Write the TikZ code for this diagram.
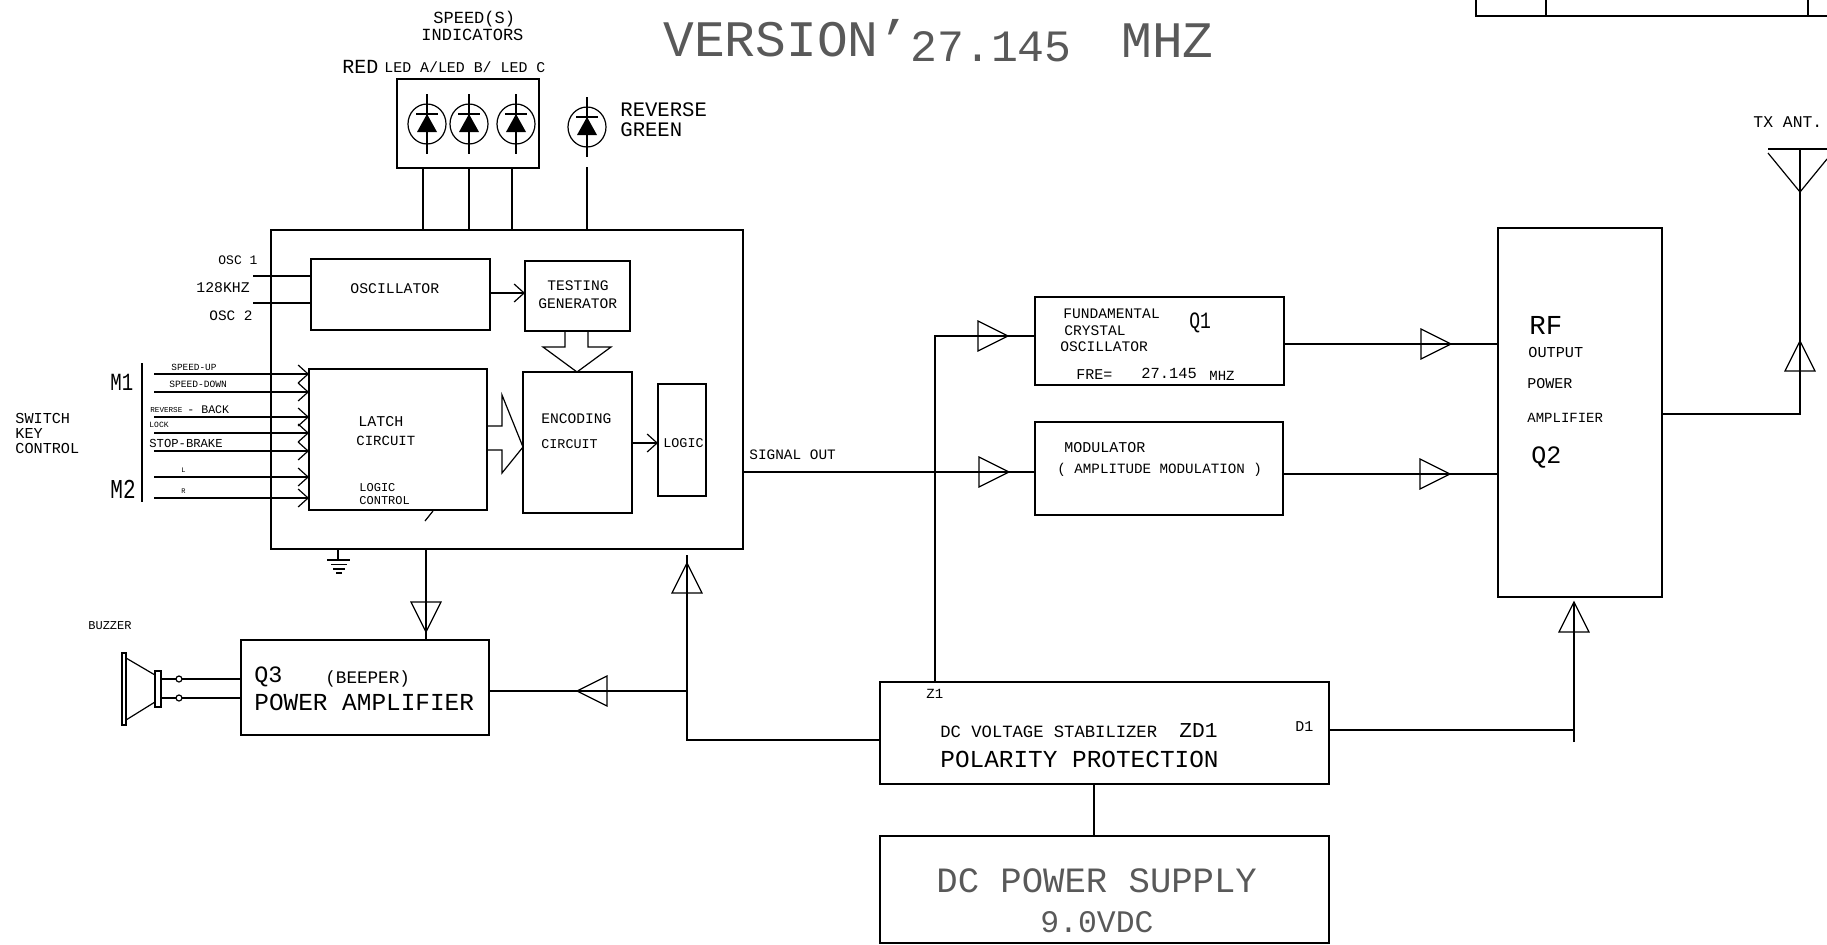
\documentclass[tikz,border=0pt]{standalone}
\usepackage{fontspec}
\setmainfont{Liberation Mono}
\usetikzlibrary{arrows.meta, fit}

\tikzset{
  lbl/.style={anchor=west, inner sep=0pt, font=\fontsize{#1}{#1}\selectfont},
  tall/.style={yscale=1.3, transform shape},
  thintxt/.style={text=black!65},
  blockbox/.style={draw, line width=.6pt, inner sep=0pt, outer sep=0pt},
  wire/.style={line width=.6pt},
  tipline/.style={wire, -{Straight Barb[length=5pt,width=9pt]}},
  openhead/.pic={\draw[wire] (-30,-15) -- (0,0) -- (-30,15) -- cycle;},
  ledsym/.pic={
    \draw[wire] (0,0) ellipse[x radius=19, y radius=20];
    \draw[wire] (0,-30) -- (0,30);
    \draw[wire] (-11,-10) -- (11,-10);
    \fill (0,-10) -- (10,8) -- (-10,8) -- cycle;
  }
}

\begin{document}
\begin{tikzpicture}[x=.5pt, y=-.5pt]
\useasboundingbox (0,0) rectangle (1827,944);

% Title
\node[lbl=25.6, thintxt] (titlea) at (663,38) {VERSION'};
\node[lbl=22.4, thintxt] (titleb) at (910,47) {27.145};
\node[lbl=25.6, thintxt] (titlec) at (1121,41) {MHZ};

% Box cut off at the top
\coordinate (cutl) at (1476,0);
\coordinate (cutm) at (1546,0);
\coordinate (cutn) at (1808,0);
\coordinate (cutr) at (1827,16);
\draw[wire] (cutl) -- (cutl |- cutr) -- (cutr);
\draw[wire] (cutm) -- (cutm |- cutr);
\draw[wire] (cutn) -- (cutn |- cutr);

% Blocks
\node[blockbox, fit={(271,230) (743,549)}] (main) {};
\node[blockbox, fit={(397,79) (539,168)}] (ledbox) {};
\node[blockbox, fit={(311,259) (490,330)}] (osc) {};
\node[blockbox, fit={(525,261) (630,331)}] (testing) {};
\node[blockbox, fit={(309,369) (487,510)}] (latch) {};
\node[blockbox, fit={(523,372) (632,513)}] (encoding) {};
\node[blockbox, fit={(658,384) (706,496)}] (logic) {};
\node[blockbox, fit={(241,640) (489,735)}] (beeper) {};
\node[blockbox, fit={(1035,297) (1284,385)}] (crystal) {};
\node[blockbox, fit={(1035,422) (1283,515)}] (modulator) {};
\node[blockbox, fit={(1498,228) (1662,597)}] (rfamp) {};
\node[blockbox, fit={(880,682) (1329,784)}] (stabilizer) {};
\node[blockbox, fit={(880,836) (1329,943)}] (supply) {};

% LEDs
\foreach \x in {427,469,516} {
  \pic at (\x,124) {ledsym};
}
\pic at (587,127) {ledsym};
\foreach \x in {423,469,512} {
  \coordinate (ledw) at (\x,200);
  \draw[wire] (ledw |- ledbox.south) -- (ledw |- main.north);
}
\coordinate (revw) at (587,167);
\draw[wire] (revw) -- (revw |- main.north);

\node[lbl=8.5] (speeds) at (433,19) {SPEED(S)};
\node[lbl=8.5] (indicators) at (421,35) {INDICATORS};
\node[lbl=10] (redled) at (342,67) {RED};
\node[lbl=7.45] (ledabc) at (384,67) {LED A/LED B/ LED C};
\node[lbl=10.3] (reverse) at (620,110) {REVERSE};
\node[lbl=10.3] (green) at (620,130) {GREEN};

% Oscillator inputs
\coordinate (osca) at (253,276);
\coordinate (oscb) at (253,303);
\draw[wire] (osca) -- (osca -| osc.west);
\draw[wire] (oscb) -- (oscb -| osc.west);
\node[lbl=6.5] (osclbla) at (218,260) {OSC 1};
\node[lbl=7.4] (khz) at (196,288) {128KHZ};
\node[lbl=7.2] (osclblb) at (209,316) {OSC 2};

% Key inputs
\node[inner sep=0pt] (mtop) at (142,362) {};
\node[inner sep=0pt] (mbot) at (142,503) {};
\draw[wire] (mtop) -- (mbot);
\foreach \y/\k in {374/a,392/b,417/c,433/d,451/e,477/f,498/g} {
  \coordinate (key\k) at (154,\y);
  \draw[tipline] (key\k) -- (key\k -| latch.west);
}
\node[lbl=9.5, tall] (mone) at (110,382) {M1};
\node[lbl=10.5, tall] (mtwo) at (110,489) {M2};
\node[lbl=4.7] (speedup) at (171,367) {SPEED-UP};
\node[lbl=4.8] (speeddown) at (169,384) {SPEED-DOWN};
\node[lbl=3.8] (backa) at (150,410) {REVERSE};
\node[lbl=5.8] (backb) at (187,410) {- BACK};
\node[lbl=4] (lock) at (149,425) {LOCK};
\node[lbl=6.1] (stopbrake) at (149,443) {STOP-BRAKE};
\node[lbl=3.5] (left) at (181,470) {L};
\node[lbl=3.5] (right) at (181,491) {R};
\node[lbl=7.6] (switch) at (15,418) {SWITCH};
\node[lbl=7.6] (key) at (15,433) {KEY};
\node[lbl=7.6] (control) at (15,448) {CONTROL};

% Inside the main block
\node[lbl=7.4] (osctxt) at (350,289) {OSCILLATOR};
\node[lbl=7.3] (testinga) at (547,286) {TESTING};
\node[lbl=7.3] (testingb) at (538,304) {GENERATOR};
\node[lbl=7.5] (latcha) at (358,422) {LATCH};
\node[lbl=7] (latchb) at (356,441) {CIRCUIT};
\node[lbl=6] (logica) at (359,488) {LOGIC};
\node[lbl=6] (logicb) at (359,501) {CONTROL};
\node[lbl=7.3] (encodea) at (541,419) {ENCODING};
\node[lbl=6.7] (encodeb) at (541,444) {CIRCUIT};
\node[lbl=6.7] (logictxt) at (663,443) {LOGIC};

\coordinate (osct) at (500,293);
\draw[tipline] (osct -| osc.east) -- (osct -| testing.west);
\coordinate (enct) at (640,443);
\draw[tipline] (enct -| encoding.east) -- (enct -| logic.west);
\coordinate (tick) at (425,521);
\draw[wire] (tick) -- (433,511);

% Fat arrows
\coordinate (fatl) at (565,347);
\coordinate (fatr) at (588,347);
\draw[wire] (fatl |- testing.south) -- (fatl) -- (543,347) -- (577,372) -- (611,347) -- (fatr) -- (fatr |- testing.south);
\coordinate (fatu) at (502,426);
\coordinate (fatd) at (502,450);
\draw[wire] (fatu -| latch.east) -- (fatu) -- (502,395) -- (523,447) -- (502,473) -- (fatd) -- (fatd -| latch.east);

% Ground
\coordinate (gnd) at (338,560);
\draw[wire] (gnd |- main.south) -- (gnd);
\draw[wire] (327,560) -- (350,560);
\draw[wire] (331,564.5) -- (347,564.5);
\draw[wire] (333,569) -- (345,569);
\draw[wire] (336,573) -- (342,573);

% Beeper
\coordinate (beepw) at (426,600);
\draw[wire] (beepw |- main.south) -- (beepw |- beeper.north);
\pic[rotate=-90] at (426,632) {openhead};
\node[lbl=11.7] (qthree) at (254,677) {Q3};
\node[lbl=8.8] (beeptxt) at (325,679) {(BEEPER)};
\node[lbl=12.2] (beepamp) at (254,702) {POWER AMPLIFIER};

% Buzzer
\draw[wire] (122,653) rectangle (126,725);
\draw[wire] (126,658) -- (155,675);
\draw[wire] (126,720) -- (155,702);
\node[blockbox, fit={(155,671) (161,707)}] (magnet) {};
\foreach \y in {679,698} {
  \coordinate (buzw) at (200,\y);
  \draw[wire] (buzw -| magnet.east) -- (buzw -| beeper.west);
  \draw[wire, fill=white] (179,\y) circle[radius=3];
}
\node[lbl=6] (buzzer) at (88,626) {BUZZER};

% Signal path
\coordinate (sig) at (800,472);
\draw[wire] (sig -| main.east) -- (sig -| modulator.west);
\node[lbl=7.2] (sigout) at (749,455) {SIGNAL OUT};
\pic at (1009,472) {openhead};

% Supply rail
\coordinate (railz) at (935,336);
\draw[wire] (railz -| crystal.west) -- (railz) -- (railz |- stabilizer.north);
\pic at (1008,336) {openhead};
\coordinate (raill) at (687,740);
\coordinate (railt) at (687,555);
\draw[wire] (raill -| stabilizer.west) -- (raill) -- (railt);
\pic[rotate=90] at (687,563) {openhead};
\coordinate (railb) at (687,691);
\draw[wire] (railb) -- (railb -| beeper.east);
\pic[rotate=180] at (577,691) {openhead};
\coordinate (raild) at (1574,730);
\coordinate (raile) at (1574,742);
\coordinate (railf) at (1574,602);
\draw[wire] (raild -| stabilizer.east) -- (raild);
\draw[wire] (raile) -- (railf);
\pic[rotate=90] at (1574,602) {openhead};
\coordinate (railp) at (1094,800);
\draw[wire] (railp |- stabilizer.south) -- (railp |- supply.north);

% Right hand blocks
\coordinate (outa) at (1400,344);
\coordinate (outb) at (1400,474);
\draw[wire] (outa -| crystal.east) -- (outa -| rfamp.west);
\draw[wire] (outb -| modulator.east) -- (outb -| rfamp.west);
\pic at (1451,344) {openhead};
\pic at (1450,474) {openhead};

\node[lbl=7.3] (funda) at (1063,314) {FUNDAMENTAL};
\node[lbl=7.3] (fundb) at (1064,331) {CRYSTAL};
\node[lbl=7.3] (fundc) at (1060,347) {OSCILLATOR};
\node[lbl=9, tall] (qone) at (1189,323) {Q1};
\node[lbl=7.5] (fre) at (1076,375) {FRE=};
\node[lbl=7.7] (freq) at (1141,373) {27.145};
\node[lbl=7] (mhz) at (1209,376) {MHZ};
\node[lbl=7.5] (moda) at (1064,448) {MODULATOR};
\node[lbl=7.1] (modb) at (1057,470) {( AMPLITUDE MODULATION )};
\node[lbl=13.7] (rf) at (1529,325) {RF};
\node[lbl=7.6] (outp) at (1528,352) {OUTPUT};
\node[lbl=7.5] (pow) at (1527,384) {POWER};
\node[lbl=7] (amp) at (1527,418) {AMPLIFIER};
\node[lbl=12.5] (qtwo) at (1531,457) {Q2};

% Antenna
\coordinate (ant) at (1800,192);
\coordinate (antr) at (1800,414);
\draw[wire] (antr -| rfamp.east) -- (antr) -- (ant) -- (1800,149);
\draw[wire] (1768,149) -- (1827,149);
\draw[wire] (1768,153) -- (ant) -- (1827,159);
\pic[rotate=90] at (1800,341) {openhead};
\node[lbl=8.2] (txant) at (1753,122) {TX ANT.};

% Power supply text
\node[lbl=7] (zone) at (926,694) {Z1};
\node[lbl=7.5] (done) at (1295,727) {D1};
\node[lbl=8.6] (stabtxt) at (940,732) {DC VOLTAGE STABILIZER};
\node[lbl=10.6] (zdone) at (1179,731) {ZD1};
\node[lbl=12.2] (polarity) at (940,759) {POLARITY PROTECTION};
\node[lbl=17.8, thintxt] (supplya) at (936,881) {DC POWER SUPPLY};
\node[lbl=15.7, thintxt] (supplyb) at (1040,922) {9.0VDC};
\end{tikzpicture}
\end{document}
